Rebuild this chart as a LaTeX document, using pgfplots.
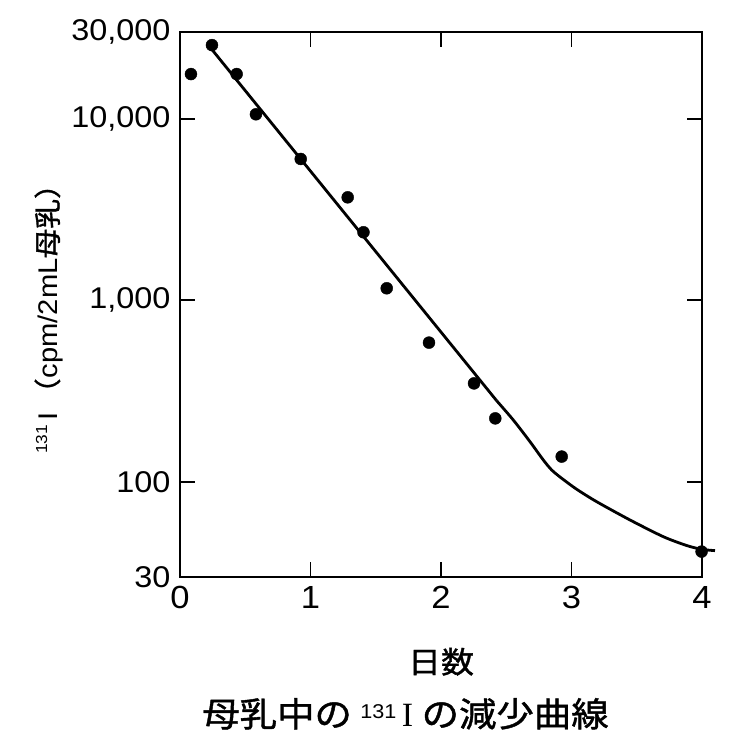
\documentclass[border=0pt]{standalone}
\usepackage{fontspec}
\usepackage{pgfplots}
\pgfplotsset{compat=1.18}
\setmainfont{Liberation Sans}[FakeStretch=1.08]
\newfontfamily\jp{Noto Sans CJK JP}[FakeStretch=1.1, FakeBold=1.2]
\newfontfamily\serifI{Liberation Serif}
\begin{document}
\begin{tikzpicture}
\useasboundingbox (-180pt,-158pt) rectangle (548pt,577pt);
\begin{axis}[
  at={(0pt,0pt)}, anchor=south west,
  scale only axis, width=522pt, height=545pt,
  xmin=0, xmax=4, ymin=30, ymax=30000,
  ymode=log, yminorticks=false,
  xtick={0,1,2,3,4}, xticklabels={0,1,2,3,4},
  ytick={30,100,1000,10000,30000},
  yticklabels={30,100,{1,000},{10,000},{30,000}},
  tick pos=both, tick align=inside,
  major tick length=15pt,
  axis line style={line width=1.8pt},
  every tick/.style={black, line width=1.8pt},
  yticklabel style={font=\fontsize{30}{30}\selectfont, xshift=-6pt},
  xticklabel style={font=\fontsize{32}{32}\selectfont, yshift=-6pt},
  clip=false,
  xlabel={\jp 日数},
  xlabel style={at={(axis description cs:0.5,-0.1555)}, anchor=center, font=\fontsize{30}{30}\selectfont},
  ylabel={\raisebox{0.75ex}{\fontsize{16}{16}\selectfont 131}\,I\,{\jp （}cpm/2mL{\jp 母乳）}},
  ylabel style={at={(axis description cs:-0.251,0.487)}, rotate=0, anchor=center, font=\fontsize{27}{27}\selectfont},
  title={\jp 母乳中の\ {\fontsize{20}{20}\selectfont\raisebox{0.75ex}{\rmfamily 131}}\,{\serifI I}\ の減少曲線},
  title style={at={(axis description cs:0.432,-0.262)}, anchor=center, font=\fontsize{34}{34}\selectfont},
]
\addplot[black, line width=2.8pt] coordinates {(0.225,25000) (2.4268,280)};
\addplot[black, line width=2.8pt, smooth, tension=0.45] coordinates {
(2.4268,280) (2.5540,219.4) (2.6820,166.7) (2.7839,132.2) (2.8483,116.4)
(2.9249,104.8) (3.0398,91.2) (3.1931,77.9) (3.4483,61.8) (3.7034,50.0)
(3.8828,44.7) (3.9977,42.6) (4.0996,41.9)};
\addplot[only marks, mark=*, mark size=6pt, black] coordinates {
(0.084,17600) (0.245,25400) (0.434,17600) (0.582,10570) (0.925,6000)
(1.285,3690) (1.406,2370) (1.584,1165) (1.908,585) (2.253,349)
(2.416,224) (2.925,138) (3.997,41.4)};
\end{axis}
\end{tikzpicture}
\end{document}
